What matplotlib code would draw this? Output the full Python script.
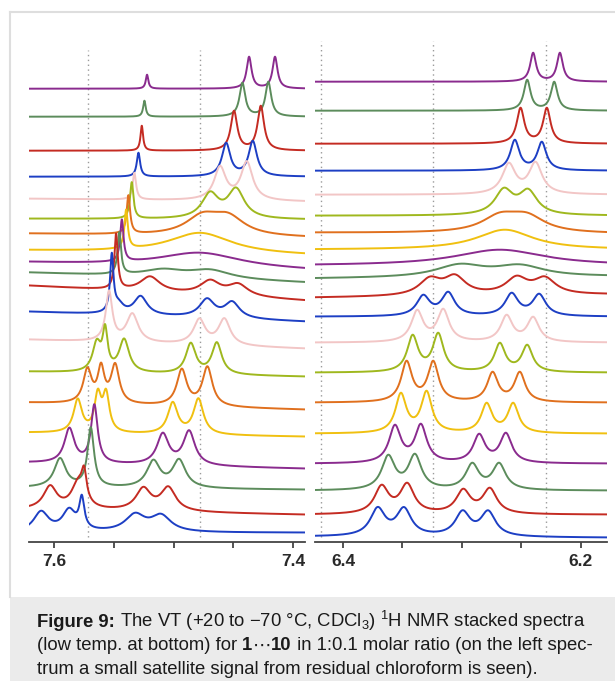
import numpy as np
import matplotlib.pyplot as plt
from matplotlib.patches import Rectangle
from matplotlib.lines import Line2D

plt.rcParams['font.family'] = ['Liberation Sans', 'DejaVu Sans']
plt.rcParams['mathtext.fontset'] = 'custom'
plt.rcParams['mathtext.rm'] = 'Liberation Sans'
plt.rcParams['mathtext.bf'] = 'Liberation Sans:bold'
plt.rcParams['mathtext.fallback'] = 'stixsans'

# colour of each trace, top (+20 °C) to bottom (-70 °C)
palette = ['#8a2b8e', '#5c8c5c', '#c42b22', '#1d3fc4',
           '#f2c6c6', '#9fb81e', '#e0701e', '#f0c010']
colors = [palette[i % 8] for i in range(20)]

# left panel, 7.62 - 7.39 ppm: peak positions (ppm), heights, half widths (ppm)
left_pos = [
    [7.5222, 7.4368, 7.4151],
    [7.5244, 7.4424, 7.4207],
    [7.5266, 7.4494, 7.4270],
    [7.5294, 7.4560, 7.4337],
    [7.5328, 7.4611, 7.4387],
    [7.5350, 7.4694, 7.4477],
    [7.5378, 7.4761, 7.4544],
    [7.5397, 7.4778],
    [7.5433, 7.4778],
    [7.5454, 7.5088, 7.4694],
    [7.5481, 7.5197, 7.4694, 7.4460],
    [7.5517, 7.5460, 7.5276, 7.4720, 7.4510],
    [7.5540, 7.5345, 7.4784, 7.4575],
    [7.5643, 7.5573, 7.5414, 7.4856, 7.4638],
    [7.5721, 7.5607, 7.5489, 7.4931, 7.4717],
    [7.5802, 7.5634, 7.5565, 7.5007, 7.4792],
    [7.5872, 7.5663, 7.5090, 7.4870],
    [7.5950, 7.5693, 7.5169, 7.4954],
    [7.6033, 7.5799, 7.5749, 7.5253, 7.5044],
    [7.6109, 7.5874, 7.5768, 7.5322, 7.5105],
]
left_hts = [
    [14, 32, 32],
    [16, 34, 35],
    [25, 40, 45],
    [24, 34, 36],
    [27, 35, 40],
    [37, 28, 32],
    [40, 24, 24],
    [43, 21],
    [46, 15],
    [44, 9, 10],
    [57, 16, 16, 14],
    [62, 16, 20, 20, 18],
    [52, 30, 27, 28],
    [34, 49, 35, 32, 33],
    [37, 42, 42, 38, 41],
    [35, 45, 45, 33, 37],
    [36, 60, 33, 36],
    [30, 61, 29, 30],
    [25, 33, 45, 25, 26],
    [22, 25, 38, 20, 19],
]
left_wid = [
    [0.0013, 0.0025, 0.0025],
    [0.0013, 0.0029, 0.0029],
    [0.0013, 0.0033, 0.0033],
    [0.0017, 0.0042, 0.0042],
    [0.0017, 0.0059, 0.0059],
    [0.0017, 0.0084, 0.0084],
    [0.0017, 0.0167, 0.0167],
    [0.0017, 0.0320],
    [0.0017, 0.0420],
    [0.0017, 0.0210, 0.0210],
    [0.0017, 0.0100, 0.0100, 0.0100],
    [0.0017, 0.0050, 0.0067, 0.0075, 0.0075],
    [0.0033, 0.0059, 0.0059, 0.0059],
    [0.0042, 0.0025, 0.0050, 0.0050, 0.0050],
    [0.0042, 0.0033, 0.0042, 0.0050, 0.0050],
    [0.0042, 0.0033, 0.0033, 0.0050, 0.0050],
    [0.0050, 0.0033, 0.0059, 0.0059],
    [0.0059, 0.0033, 0.0067, 0.0067],
    [0.0067, 0.0067, 0.0025, 0.0075, 0.0075],
    [0.0075, 0.0067, 0.0025, 0.0100, 0.0100],
]
left_off = [453, 425, 391, 365, 343, 323, 308, 291, 279, 269,
            256, 230, 202, 170, 139, 109, 79, 54, 32, 9]
left_tilt = [0, 0, 0, 0, 3, 1, 4, 5, 8, 10, 15, 10, 9, 5, 7, 4, 6, 2, 5, 0]

# right panel, 6.42 - 6.18 ppm
right_pos = [
    [6.2401, 6.2176],
    [6.2451, 6.2224],
    [6.2507, 6.2286],
    [6.2555, 6.2328],
    [6.2605, 6.2381],
    [6.2647, 6.2443],
    [6.2681, 6.2454],
    [6.2639],
    [6.2681],
    [6.3017, 6.2513],
    [6.3269, 6.3059, 6.2540, 6.2303],
    [6.3325, 6.3115, 6.2582, 6.2350],
    [6.3376, 6.3157, 6.2624, 6.2401],
    [6.3414, 6.3199, 6.2681, 6.2451],
    [6.3465, 6.3241, 6.2742, 6.2513],
    [6.3513, 6.3297, 6.2792, 6.2569],
    [6.3563, 6.3345, 6.2855, 6.2630],
    [6.3619, 6.3395, 6.2913, 6.2687],
    [6.3675, 6.3460, 6.2989, 6.2765],
    [6.3708, 6.3487, 6.2994, 6.2779],
]
right_hts = [
    [29, 29], [31, 29], [36, 36], [31, 29], [32, 33], [28, 27],
    [21, 21], [20], [16], [14, 13],
    [20, 22, 20, 19], [22, 25, 24, 23], [33, 34, 28, 26], [38, 40, 30, 28],
    [42, 42, 31, 31], [41, 43, 31, 31], [39, 40, 30, 31], [36, 37, 28, 28],
    [30, 32, 26, 27], [30, 30, 27, 27],
]
right_wid = [0.0030, 0.0034, 0.0038, 0.0046, 0.0067, 0.0092, 0.0185, 0.0290,
             0.0460, 0.0250, 0.0110, 0.0067, 0.0060, 0.0055, 0.0055, 0.0055,
             0.0060, 0.0067, 0.0072, 0.0075]
right_off = [460, 431, 398, 371, 347, 326, 309, 292, 276, 263,
             244, 225, 199, 169, 139, 108, 78, 51, 27, 5]
right_tilt = [0, 0, 0, 0, 0, 0, 1, 0, 0, -2, -3, 0, 0, 0, 0, 0, 0, 0, 0, 1]

left_lim = (7.621, 7.390)
right_lim = (6.4235, 6.178)
left_marks = [7.5716, 7.4780]
right_marks = [6.4185, 6.3244, 6.2294]
left_ticks = [7.6, 7.4]
right_ticks = [6.4, 6.2]
minor_step = 0.05

# caption lines as (text, bold) pieces
caption = [
    [("Figure 9:", True),
     (" The VT (+20 to −70 °C, CDCl$_3$) $^1$H NMR stacked spectra", False)],
    [("(low temp. at bottom) for ", False), ("1", True), ("\u22ef", False),
     ("10", True), (" in 1:0.1 molar ratio (on the left spec-", False)],
    [("trum a small satellite signal from residual chloroform is seen).", False)],
]


def spectrum(x, pos, hts, wid, off, tilt, lim):
    pos = np.asarray(pos, float)
    wid = np.broadcast_to(np.asarray(wid, float), pos.shape)
    a = 1 / (1 + ((pos[:, None] - pos[None, :]) / wid[None, :]) ** 2)
    amp = np.clip(np.linalg.solve(a, np.asarray(hts, float)), 0, None)
    y = (amp[None, :] / (1 + ((x[:, None] - pos[None, :]) / wid[None, :]) ** 2)).sum(1)
    frac = (lim[0] - x) / (lim[0] - lim[1])
    return off - tilt * frac + y


W, H = 615, 681
fig = plt.figure(figsize=(W / 100, H / 100), dpi=100)

# frame and caption box
fig.add_artist(Rectangle((10 / W, 0), 605 / W, (H - 597) / H,
                         transform=fig.transFigure, facecolor='#ebebeb',
                         edgecolor='none', zorder=0))
fig.add_artist(Line2D([10 / W, 1], [1 - 12 / H] * 2, transform=fig.transFigure,
                      color='#dedede', lw=1.5))
fig.add_artist(Line2D([10 / W] * 2, [1 - 12 / H, (H - 597) / H],
                      transform=fig.transFigure, color='#dedede', lw=1.5))

ax_bottom = 541.7
ax_top = 30
panels = [
    (29, 305, left_lim, left_pos, left_hts, left_wid, left_off, left_tilt,
     left_marks, left_ticks, 50),
    (315, 607, right_lim, right_pos, right_hts, right_wid, right_off, right_tilt,
     right_marks, right_ticks, 41),
]
for (x0, x1, lim, pos, hts, wid, off, tilt, marks, ticks, mark_top) in panels:
    ax = fig.add_axes([x0 / W, (H - ax_bottom) / H, (x1 - x0) / W,
                       (ax_bottom - ax_top) / H])
    x = np.linspace(lim[0], lim[1], 1600)
    ax.vlines(marks, ax_bottom - 537, ax_bottom - mark_top, colors='#9a9a9a',
              linestyles=(0, (1, 2.5)), lw=1, zorder=1)
    for i in range(20):
        ax.plot(x, spectrum(x, pos[i], hts[i], wid[i], off[i], tilt[i], lim),
                color=colors[i], lw=1.4, zorder=2 + i)
    ax.set_xlim(*lim)
    ax.set_ylim(0, ax_bottom - ax_top)
    ax.set_xticks(ticks)
    ax.set_xticklabels([f'{t:.1f}' for t in ticks])
    ax.set_xticks(np.arange(min(ticks), max(ticks) + 0.01, minor_step), minor=True)
    ax.tick_params(axis='x', which='both', direction='out', length=4.5, width=1.3,
                   color='#444444', pad=4)
    ax.tick_params(axis='x', which='major', labelsize=12.5, labelcolor='#2a2a2a')
    for lab in ax.get_xticklabels():
        lab.set_fontweight('bold')
    ax.set_yticks([])
    for s in ['top', 'left', 'right']:
        ax.spines[s].set_visible(False)
    ax.spines['bottom'].set_color('#444444')
    ax.spines['bottom'].set_linewidth(1.3)
    ax.patch.set_alpha(0)

renderer = fig.canvas.get_renderer()
for k, pieces in enumerate(caption):
    xpos = 37
    for text, bold in pieces:
        t = fig.text(xpos / W, 1 - (627 + 23.5 * k) / H, text, fontsize=13.3,
                     color='#1a1a1a', va='baseline', ha='left',
                     fontweight='bold' if bold else 'normal')
        xpos += t.get_window_extent(renderer).width

fig.savefig('out.png', dpi=100)
